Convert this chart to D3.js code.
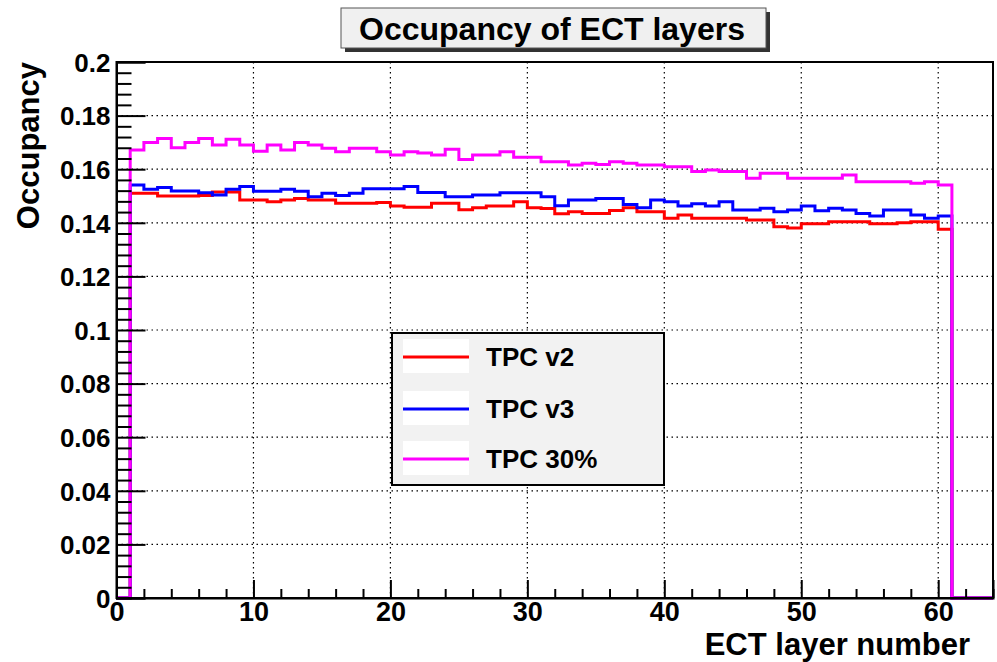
<!DOCTYPE html>
<html>
<head>
<meta charset="utf-8">
<script src="https://cdn.jsdelivr.net/npm/d3@7"></script>
<style>
  body { margin: 0; background: #fff; }
  text { font-family: "Liberation Sans", Arial, Helvetica, sans-serif; font-weight: bold; fill: #000; }
</style>
</head>
<body>
<svg id="chart" width="997" height="662"></svg>
<script>
// Occupancy per ECT layer (layers 1..60), one array per TPC configuration
const layerStart = 1;
const tpcV2 = [
  0.1510, 0.1510, 0.1500, 0.1500, 0.1500, 0.1502, 0.1515, 0.1515, 0.1485, 0.1485,
  0.1479, 0.1485, 0.1491, 0.1485, 0.1485, 0.1473, 0.1473, 0.1473, 0.1476, 0.1463,
  0.1458, 0.1458, 0.1473, 0.1473, 0.1449, 0.1456, 0.1463, 0.1463, 0.1479, 0.1456,
  0.1453, 0.1434, 0.1441, 0.1435, 0.1435, 0.1446, 0.1456, 0.1441, 0.1441, 0.1417,
  0.1429, 0.1417, 0.1417, 0.1417, 0.1417, 0.1410, 0.1410, 0.1385, 0.1381, 0.1396,
  0.1396, 0.1404, 0.1404, 0.1404, 0.1396, 0.1396, 0.1400, 0.1404, 0.1404, 0.1376
];
const tpcV3 = [
  0.1541, 0.1525, 0.1532, 0.1519, 0.1519, 0.1512, 0.1504, 0.1525, 0.1535, 0.1518,
  0.1518, 0.1525, 0.1518, 0.1497, 0.1510, 0.1502, 0.1510, 0.1527, 0.1527, 0.1527,
  0.1535, 0.1513, 0.1513, 0.1497, 0.1497, 0.1504, 0.1504, 0.1512, 0.1512, 0.1512,
  0.1497, 0.1464, 0.1485, 0.1485, 0.1491, 0.1491, 0.1468, 0.1456, 0.1485, 0.1479,
  0.1463, 0.1471, 0.1463, 0.1479, 0.1448, 0.1448, 0.1454, 0.1441, 0.1448, 0.1463,
  0.1445, 0.1454, 0.1448, 0.1435, 0.1425, 0.1448, 0.1448, 0.1429, 0.1417, 0.1425
];
const tpc30 = [
  0.1672, 0.1700, 0.1715, 0.1680, 0.1700, 0.1715, 0.1690, 0.1712, 0.1690, 0.1667,
  0.1690, 0.1672, 0.1700, 0.1690, 0.1678, 0.1665, 0.1678, 0.1678, 0.1665, 0.1653,
  0.1665, 0.1660, 0.1653, 0.1674, 0.1636, 0.1653, 0.1653, 0.1665, 0.1645, 0.1645,
  0.1628, 0.1628, 0.1616, 0.1622, 0.1618, 0.1628, 0.1622, 0.1616, 0.1616, 0.1609,
  0.1609, 0.1591, 0.1597, 0.1591, 0.1591, 0.1566, 0.1585, 0.1585, 0.1566, 0.1566,
  0.1566, 0.1566, 0.1578, 0.1553, 0.1553, 0.1553, 0.1553, 0.1548, 0.1553, 0.1541
];
const seriesNames = ["TPC v2", "TPC v3", "TPC 30%"];
const seriesColors = ["#ff0000", "#0000ff", "#ff00ff"];

const xDomain = [0, 64];
const yDomain = [0, 0.2];
const xTicks = [0, 10, 20, 30, 40, 50, 60];
const xTickLabels = ["0", "10", "20", "30", "40", "50", "60"];
const yTicks = [0, 0.02, 0.04, 0.06, 0.08, 0.1, 0.12, 0.14, 0.16, 0.18, 0.2];
const yTickLabels = ["0", "0.02", "0.04", "0.06", "0.08", "0.1", "0.12", "0.14", "0.16", "0.18", "0.2"];
const titleText = "Occupancy of ECT layers";
const xTitle = "ECT layer number";
const yTitle = "Occupancy";

const svg = d3.select("#chart");
const frame = { left: 116.5, right: 993, top: 62, bottom: 598 };

const x = d3.scaleLinear().domain(xDomain).range([frame.left, frame.right]);
const y = d3.scaleLinear().domain(yDomain).range([frame.bottom, frame.top]);

svg.append("rect").attr("width", 997).attr("height", 662).attr("fill", "#fff");

// dotted grid at the major ticks
const grid = svg.append("g").attr("stroke", "#000").attr("stroke-width", 1.2)
  .attr("stroke-dasharray", "1.5,3.5");
grid.selectAll("line.gx").data(xTicks.slice(1)).join("line")
  .attr("x1", d => x(d)).attr("x2", d => x(d))
  .attr("y1", frame.top).attr("y2", frame.bottom);
grid.selectAll("line.gy").data(yTicks.slice(1, -1)).join("line")
  .attr("x1", frame.left).attr("x2", frame.right)
  .attr("y1", d => y(d)).attr("y2", d => y(d));

// histogram outlines: empty bins before layer 1 and after layer 60
function histPoints(vals) {
  const pts = [{ b: xDomain[0], v: 0 }];
  vals.forEach((v, i) => pts.push({ b: layerStart + i, v }));
  pts.push({ b: layerStart + vals.length, v: 0 });
  pts.push({ b: xDomain[1], v: 0 });
  return pts;
}
const step = d3.line().x(d => x(d.b)).y(d => y(d.v)).curve(d3.curveStepAfter);
[tpcV2, tpcV3, tpc30].forEach((vals, i) => {
  svg.append("path").datum(histPoints(vals))
    .attr("d", step).attr("fill", "none")
    .attr("stroke", seriesColors[i]).attr("stroke-width", 3)
    .attr("stroke-linejoin", "miter");
});

// frame
svg.append("rect")
  .attr("x", frame.left).attr("y", frame.top)
  .attr("width", frame.right - frame.left).attr("height", frame.bottom - frame.top)
  .attr("fill", "none").attr("stroke", "#000").attr("stroke-width", 2);

// y axis: inward ticks
const yMinor = d3.range(0, 0.2001, 0.004).filter(v => Math.abs(v / 0.02 - Math.round(v / 0.02)) > 1e-6);
const yAx = svg.append("g").attr("transform", `translate(${frame.left},0)`)
  .call(d3.axisLeft(y).tickValues(yTicks).tickSize(-29).tickPadding(6)
    .tickFormat((d, i) => yTickLabels[i]));
svg.append("g").attr("transform", `translate(${frame.left},0)`)
  .call(d3.axisLeft(y).tickValues(yMinor).tickSize(-15).tickFormat(""))
  .call(g => g.select(".domain").remove());
yAx.selectAll("text").attr("font-size", 26).attr("dy", "0.36em");

// x axis: inward ticks
const xMinor = d3.range(0, 64.01, 2).filter(v => v % 10 !== 0);
const xAx = svg.append("g").attr("transform", `translate(0,${frame.bottom})`)
  .call(d3.axisBottom(x).tickValues(xTicks).tickSize(-18).tickPadding(4)
    .tickFormat((d, i) => xTickLabels[i]));
svg.append("g").attr("transform", `translate(0,${frame.bottom})`)
  .call(d3.axisBottom(x).tickValues(xMinor).tickSize(-9).tickFormat(""))
  .call(g => g.select(".domain").remove());
xAx.selectAll("text").attr("font-size", 27);
svg.selectAll(".tick line").attr("stroke", "#000").attr("stroke-width", 2);
svg.selectAll(".domain").attr("stroke", "#000").attr("stroke-width", 2);
svg.selectAll(".tick text").attr("font-family", "'Liberation Sans', Arial, sans-serif").attr("font-weight", "bold");

// axis titles
svg.append("text").attr("x", 970).attr("y", 655).attr("text-anchor", "end")
  .attr("font-size", 31).text(xTitle);
svg.append("text").attr("transform", "translate(39,62) rotate(-90)")
  .attr("text-anchor", "end").attr("font-size", 31).text(yTitle);

// title box with shadow
svg.append("rect").attr("x", 345).attr("y", 12).attr("width", 425).attr("height", 40).attr("fill", "#333");
svg.append("rect").attr("x", 341).attr("y", 8).attr("width", 425).attr("height", 40)
  .attr("fill", "#f0f0f0").attr("stroke", "#555").attr("stroke-width", 1);
svg.append("text").attr("x", 552).attr("y", 40).attr("text-anchor", "middle")
  .attr("font-size", 32).text(titleText);

// legend
const lg = svg.append("g");
lg.append("rect").attr("x", 392).attr("y", 333).attr("width", 272).attr("height", 152)
  .attr("fill", "#f2f2f2").attr("stroke", "#000").attr("stroke-width", 2);
const rowY = [357, 409, 459];
seriesNames.forEach((name, i) => {
  lg.append("rect").attr("x", 403).attr("y", rowY[i] - 18).attr("width", 66).attr("height", 34).attr("fill", "#fff");
  lg.append("line").attr("x1", 403).attr("x2", 469).attr("y1", rowY[i]).attr("y2", rowY[i])
    .attr("stroke", seriesColors[i]).attr("stroke-width", 3);
  lg.append("text").attr("x", 486).attr("y", rowY[i] + 9).attr("font-size", 26).text(name);
});
</script>
</body>
</html>
